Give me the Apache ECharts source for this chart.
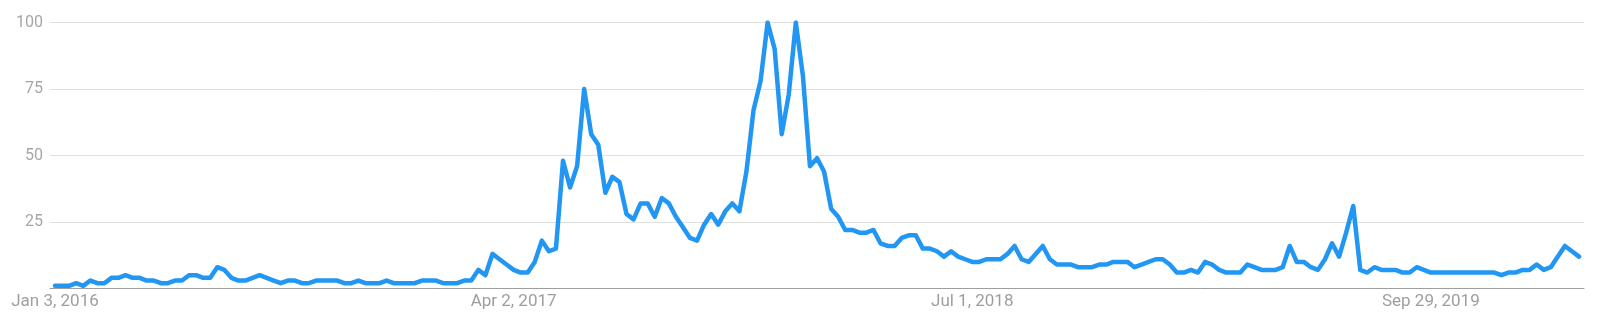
<!DOCTYPE html>
<html>
<head>
<meta charset="utf-8">
<script src="https://cdn.jsdelivr.net/npm/echarts@6.0.0/dist/echarts.min.js"></script>
<style>
html,body{margin:0;padding:0;background:#fff;}
#chart{width:1600px;height:322px;}
</style>
</head>
<body>
<div id="chart"></div>
<script>
// Weekly interest values (week index 0 = Jan 3, 2016)
const values = [
  1,1,1,2,1,3,2,2,4,4,5,4,4,3,3,2,2,3,3,5,5,4,4,8,
  7,4,3,3,4,5,4,3,2,3,3,2,2,3,3,3,3,2,2,3,2,2,2,3,2,
  2,2,2,3,3,3,2,2,2,3,3,
  7,5,13,11,9,7,6,6,10,18,14,15,48,38,46,75,58,54,36,42,40,
  28,26,32,32,27,34,32,27,23,19,18,24,28,24,29,32,29,44,67,78,100,90,58,73,100,80,46,49,
  44,30,27,22,22,21,21,22,17,16,16,19,20,20,15,15,14,12,14,12,11,10,10,11,11,11,13,16,
  11,10,13,16,11,9,9,9,8,8,8,9,9,10,10,10,8,9,10,11,11,9,6,6,7,6,10,9,7,
  6,6,6,9,8,7,7,7,8,16,10,10,8,7,11,17,12,21,31,7,6,8,7,7,7,
  6,6,8,7,6,6,6,6,6,6,6,6,6,6,5,6,6,7,7,9,7,8,12,16,14,12
];
const tickWeeks = [0, 65, 130, 195];
const tickLabels = ["Jan 3, 2016", "Apr 2, 2017", "Jul 1, 2018", "Sep 29, 2019"];
const yTicks = [0, 25, 50, 75, 100];

const seriesData = values.map((v, i) => [i, v]);
const chart = echarts.init(document.getElementById('chart'), null, {renderer: 'canvas'});
chart.setOption({
  animation: false,
  backgroundColor: '#ffffff',
  textStyle: {fontFamily: 'Roboto'},
  grid: {left: 50, right: 16, top: 22.5, bottom: 33.5, containLabel: false},
  xAxis: {
    type: 'value',
    min: -0.709,
    max: values.length - 1 + 0.709,
    splitLine: {show: false},
    axisTick: {show: false},
    axisLine: {show: true, lineStyle: {color: '#9e9e9e', width: 1}},
    axisLabel: {
      customValues: tickWeeks,
      margin: 5,
      color: '#9e9e9e',
      fontSize: 17,
      fontFamily: 'Roboto',
      formatter: v => {
        const k = tickWeeks.indexOf(Math.round(v));
        return k >= 0 ? tickLabels[k] : '';
      }
    }
  },
  yAxis: {
    type: 'value',
    min: yTicks[0],
    max: yTicks[yTicks.length - 1],
    interval: 25,
    axisLine: {show: false},
    axisTick: {show: false},
    splitLine: {lineStyle: {color: '#e0e0e0', width: 1}},
    axisLabel: {
      margin: 7,
      color: '#a6a6a6',
      fontSize: 16,
      fontFamily: 'Roboto',
      formatter: v => (v === 0 ? '' : String(v))
    }
  },
  series: [{
    type: 'line',
    data: seriesData,
    showSymbol: false,
    lineStyle: {color: '#2196f3', width: 4.5, join: 'round', cap: 'round'},
    itemStyle: {color: '#2196f3'}
  }]
});
</script>
</body>
</html>
